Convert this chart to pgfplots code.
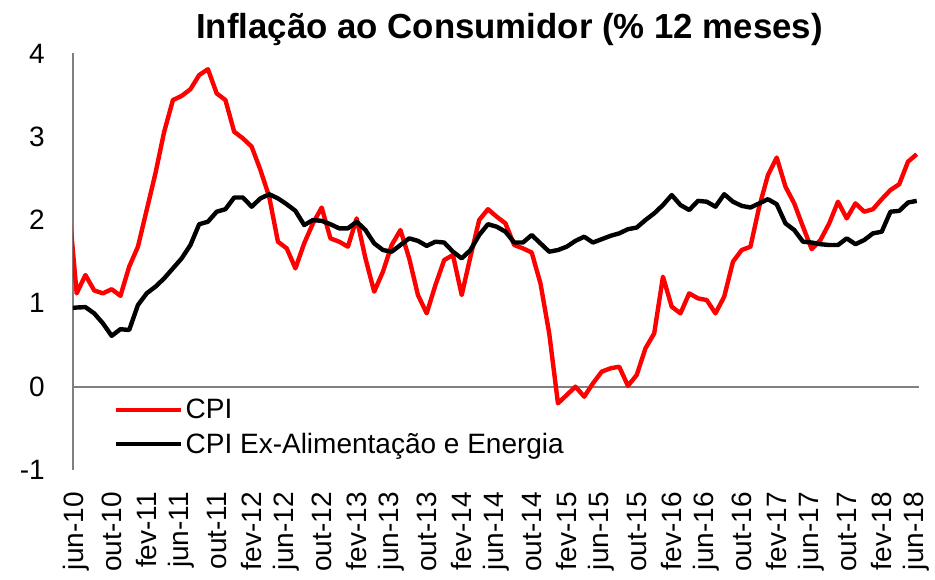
\documentclass[border=0pt]{standalone}
\usepackage{fontspec}
\setmainfont{Liberation Sans}
\usepackage{pgfplots}
\pgfplotsset{compat=1.18}
\usepackage{pgfplotstable}
\pgfplotstableread{
m cpi core
-1 2.30 0.94
0 1.12 0.95
1 1.34 0.955
2 1.155 0.88
3 1.12 0.76
4 1.17 0.61
5 1.09 0.69
6 1.44 0.68
7 1.68 0.98
8 2.12 1.12
9 2.56 1.20
10 3.06 1.30
11 3.44 1.42
12 3.49 1.54
13 3.57 1.70
14 3.74 1.95
15 3.81 1.98
16 3.52 2.10
17 3.44 2.13
18 3.06 2.27
19 2.98 2.27
20 2.88 2.16
21 2.60 2.26
22 2.28 2.31
23 1.74 2.26
24 1.66 2.19
25 1.42 2.11
26 1.72 1.94
27 1.96 2.00
28 2.15 1.99
29 1.78 1.95
30 1.74 1.90
31 1.68 1.90
32 2.02 1.98
33 1.54 1.88
34 1.14 1.72
35 1.38 1.64
36 1.70 1.62
37 1.88 1.70
38 1.54 1.78
39 1.10 1.75
40 0.88 1.69
41 1.22 1.74
42 1.52 1.73
43 1.58 1.62
44 1.10 1.54
45 1.56 1.64
46 2.00 1.82
47 2.13 1.95
48 2.04 1.92
49 1.96 1.86
50 1.70 1.73
51 1.66 1.73
52 1.61 1.82
53 1.24 1.72
54 0.64 1.62
55 -0.20 1.64
56 -0.10 1.68
57 0.00 1.75
58 -0.12 1.80
59 0.04 1.73
60 0.18 1.77
61 0.22 1.81
62 0.24 1.84
63 0.01 1.89
64 0.14 1.91
65 0.46 2.00
66 0.64 2.08
67 1.32 2.18
68 0.96 2.30
69 0.88 2.18
70 1.12 2.12
71 1.06 2.23
72 1.04 2.22
73 0.88 2.16
74 1.08 2.31
75 1.50 2.22
76 1.64 2.17
77 1.68 2.15
78 2.16 2.20
79 2.54 2.25
80 2.75 2.19
81 2.40 1.96
82 2.20 1.88
83 1.92 1.74
84 1.65 1.73
85 1.76 1.71
86 1.96 1.70
87 2.22 1.70
88 2.02 1.78
89 2.20 1.71
90 2.10 1.76
91 2.13 1.84
92 2.25 1.86
93 2.36 2.10
94 2.43 2.11
95 2.70 2.21
96 2.79 2.23
}\datatable
\begin{document}
\begin{tikzpicture}
\useasboundingbox (0,0) rectangle (935pt,580pt);
\begin{axis}[
  at={(73pt,110pt)}, anchor=south west,
  scale only axis, width=846pt, height=416.6pt,
  xmin=-0.42, xmax=96.26, ymin=-1, ymax=4,
  axis y line=left, axis x line=bottom,
  x axis line style={draw=none},
  y axis line style={draw=gray, line width=1.5pt, -},
  major tick length=0pt,
  ytick={-1,0,1,2,3,4},
  yticklabels={-1,0,1,2,3,4},
  yticklabel style={font=\fontsize{28}{33.6}\selectfont, anchor=east, inner sep=0pt, xshift=-28pt},
  xtick={0,4,...,96},
  xticklabels={jun-10,out-10,fev-11,jun-11,out-11,fev-12,jun-12,out-12,fev-13,jun-13,out-13,fev-14,jun-14,out-14,fev-15,jun-15,out-15,fev-16,jun-16,out-16,fev-17,jun-17,out-17,fev-18,jun-18},
  xticklabel style={font=\fontsize{28}{33.6}\selectfont, rotate=90, anchor=east, inner sep=0pt, xshift=-22pt},
  extra y ticks={0},
  extra y tick labels={},
  extra y tick style={grid=major, major grid style={draw=gray, line width=1.8pt}},
  legend style={at={(0.045,0.18)}, anchor=north west, draw=none, fill=none,
    font=\fontsize{28}{33.6}\selectfont, row sep=9pt,
    nodes={inner sep=2pt}},
  legend cell align=left,
  legend image code/.code={\draw[#1] (0pt,0pt) -- (65pt,0pt);},
  clip=true,
]
\addplot[red, line width=4.4pt, line join=round] table[x=m, y=cpi] {\datatable};
\addlegendentry{CPI}
\addplot[black, line width=4.4pt, line join=round] table[x=m, y=core] {\datatable};
\addlegendentry{CPI Ex-Alimentação e Energia}
\end{axis}
\node[font=\fontsize{34.8}{40}\selectfont\bfseries, anchor=base] at (509.5pt,541pt) {Inflação ao Consumidor (\% 12 meses)};
\end{tikzpicture}
\end{document}
